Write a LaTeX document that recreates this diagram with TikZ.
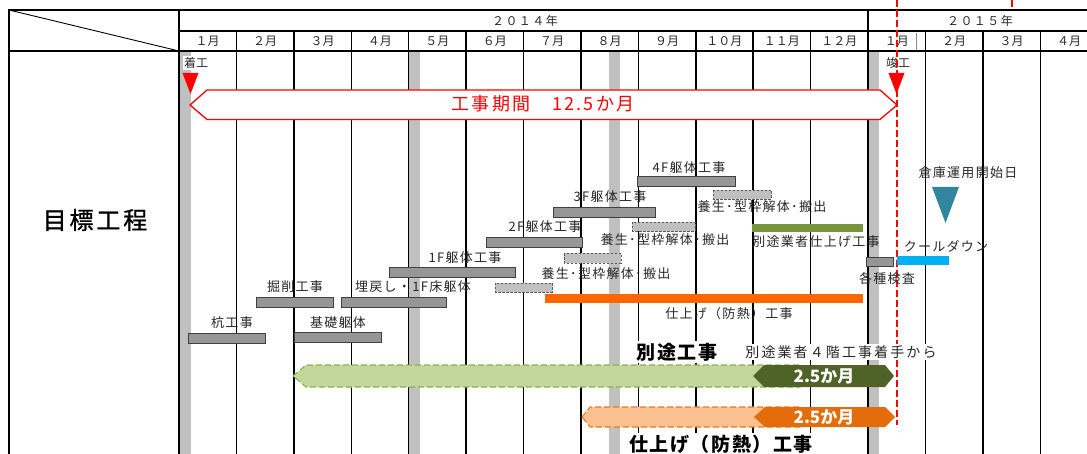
\documentclass[tikz,border=0pt]{standalone}
\usepackage{fontspec}
\setmainfont{Noto Sans CJK JP}
\definecolor{stripeg}{HTML}{C0C0C0}
\definecolor{barg}{HTML}{969696}
\definecolor{bard}{HTML}{404040}
\definecolor{dboxd}{HTML}{595959}
\definecolor{greenbar}{HTML}{77933C}
\definecolor{orangebar}{HTML}{FF6600}
\definecolor{cyanbar}{HTML}{00B0F0}
\definecolor{tealtri}{HTML}{31859C}
\definecolor{lgreen}{HTML}{C3D69B}
\definecolor{lgreend}{HTML}{8FAE55}
\definecolor{dgreen}{HTML}{4F6228}
\definecolor{lorange}{HTML}{FAC090}
\definecolor{lorangd}{HTML}{EC7A1C}
\definecolor{dorange}{HTML}{E46C0A}
\definecolor{txt}{HTML}{262626}
\newcommand\lblfont{\fontsize{13}{15}\selectfont\addfontfeature{LetterSpace=10}}
\newcommand\monfont{\fontsize{12}{14}\selectfont}
\newcommand\yrfont{\fontsize{12}{14}\selectfont\addfontfeature{LetterSpace=12}}
\newcommand\bigbold{\fontsize{19}{22}\selectfont\bfseries\addfontfeature{LetterSpace=8}}
\tikzset{
  gridline/.style={line width=1.5pt, black},
  border/.style={line width=1.8pt, black},
  gbar/.style={fill=barg, draw=bard, line width=0.8pt},
  dbox/.style={fill=stripeg, draw=dboxd, line width=0.8pt, dash pattern=on 2.5pt off 1.5pt},
  lbl/.style={font=\lblfont, inner sep=0pt, text=txt},
  mon/.style={font=\monfont, inner sep=0pt, text=txt},
  redv/.style={red, line width=2pt, dash pattern=on 7pt off 3pt},
}
\begin{document}
\begin{tikzpicture}[x=1pt,y=-1pt]
\useasboundingbox (0,0) rectangle (1087,454);
% stripes
\foreach \sx in {180,409,609,868} \fill[stripeg] (\sx,51) rectangle ++(10.5,403);
% grid lines
\foreach \i in {1,...,15} \draw[gridline] ({179+57.42*\i},31) -- ({179+57.42*\i},454);
\draw[gridline] (868,10) -- (868,31);
\draw[gridline] (179,10) -- (179,454);
\draw[border] (9,10) -- (1087,10);
\draw[border] (9,9.1) -- (9,454);
\draw[gridline] (9,51) -- (1087,51);
\draw[gridline] (179,31) -- (1087,31);
\draw[line width=0.9pt] (9,10) -- (179,51);
\draw[stripeg!70!black, line width=0.6pt] (916,33) -- (916,50);
% header text
\node[mon, font=\yrfont] (y2014) at (525,21) {２０１４年};
\node[mon, font=\yrfont] (y2015) at (980,21) {２０１５年};
\foreach \m [count=\k from 0] in {１月,２月,３月,４月,５月,６月,７月,８月,９月,１０月,１１月,１２月,１月,２月,３月,４月}
  \node[mon] (m\k) at ({179+57.42*(\k+0.5)},41.5) {\m};
% title
\node[inner sep=0pt, font=\fontsize{24}{28}\selectfont\addfontfeature{LetterSpace=12,FakeBold=1}] (title) at (95,220) {目標工程};
% start / finish
\node[lbl, fill=white, font=\fontsize{12}{14}\selectfont, inner sep=1pt] (chakko) at (196,63) {着工};
\node[lbl, fill=white, font=\fontsize{12}{14}\selectfont, inner sep=1pt] (shunko) at (898,63) {竣工};
\draw[redv] (896.5,0) -- (896.5,425);
\draw[redv] (1012,0) -- (1012,10);
\fill[red] (182.5,73) -- (198.5,73) -- (190.5,94) -- cycle;
\fill[red] (888.5,73) -- (904.5,73) -- (896.5,94) -- cycle;
% period arrow
\draw[red, line width=1.3pt, fill=white] (190,105) -- (207,90) -- (880,90) -- (897,105) -- (880,119.5) -- (207,119.5) -- cycle;
\node[inner sep=0pt, red, font=\fontsize{18}{20}\selectfont\addfontfeature{LetterSpace=12}] (period) at (543,104) {工事期間　12.5か月};
% bars
\draw[gbar] (188,333) rectangle (265,343);
\node[lbl] (kui) at (232,323) {杭工事};
\draw[gbar] (294,332) rectangle (381,342);
\node[lbl] (kiso) at (338,323) {基礎躯体};
\draw[gbar] (256,297) rectangle (333,307);
\node[lbl] (kussaku) at (295,287) {掘削工事};
\draw[gbar] (341,297) rectangle (446,307);
\node[lbl] (umemodoshi) at (413,287) {埋戻し・1F床躯体};
\draw[gbar] (389,267) rectangle (515,277);
\node[lbl] (f1) at (465,258) {1F躯体工事};
\draw[gbar] (486,237) rectangle (582,247);
\node[lbl] (f2) at (545,227) {2F躯体工事};
\draw[gbar] (553,207) rectangle (655,217);
\node[lbl] (f3) at (610,197) {3F躯体工事};
\draw[gbar] (637,176) rectangle (735,186);
\node[lbl] (f4) at (689,168) {4F躯体工事};
% dashed boxes
\draw[dbox] (495,283) rectangle (552,292);
\draw[dbox] (564,253.5) rectangle (621,263);
\draw[dbox] (632,222) rectangle (695,231);
\draw[dbox] (713,190) rectangle (771,199);
\node[lbl] (yojo1) at (606,274) {養生･型枠解体･搬出};
\node[lbl] (yojo2) at (665,240) {養生･型枠解体･搬出};
\node[lbl] (yojo3) at (762,207) {養生･型枠解体･搬出};
% colored bars
\fill[greenbar] (752,224) rectangle (863,232.5);
\node[lbl] (betto) at (816,242) {別途業者仕上げ工事};
\fill[orangebar] (545,294) rectangle (863,303);
\node[lbl] (shiage) at (729,314) {仕上げ（防熱）工事};
\draw[gbar] (866,257) rectangle (893,266);
\node[lbl] (kensa) at (887,279) {各種検査};
\fill[cyanbar] (897,256) rectangle (949,265);
\node[lbl] (cool) at (946,246) {クールダウン};
\node[lbl] (soko) at (968,173) {倉庫運用開始日};
\fill[tealtri] (932,187) -- (959,187) -- (945.5,223) -- cycle;
% bottom arrows
\draw[fill=lgreen, draw=lgreend, line width=1.1pt, dash pattern=on 6pt off 3pt] (293,376) -- (306,365) -- (800,365) -- (800,387) -- (306,387) -- cycle;
\fill[dgreen] (753,376) -- (764,365) -- (885,365) -- (894,376) -- (885,387) -- (764,387) -- cycle;
\node[inner sep=0pt, white, font=\fontsize{17}{20}\selectfont\bfseries] (g25) at (824,376) {2.5か月};
\draw[fill=lorange, draw=lorangd, line width=1.1pt, dash pattern=on 6pt off 3pt] (582,417) -- (590,407) -- (800,407) -- (800,427) -- (590,427) -- cycle;
\fill[dorange] (754,417) -- (765,407) -- (885,407) -- (895,417) -- (885,427) -- (765,427) -- cycle;
\node[inner sep=0pt, white, font=\fontsize{17}{20}\selectfont\bfseries] (o25) at (824,417) {2.5か月};
\node[fill=white, inner sep=1.5pt, font=\bigbold] (bettokoji) at (677,352) {別途工事};
\node[fill=white, inner sep=1.5pt, text=txt, font=\fontsize{14}{16}\selectfont\addfontfeature{LetterSpace=15}] (bettonote) at (841,352) {別途業者４階工事着手から};
\node[fill=white, inner sep=1.5pt, font=\bigbold] (shiagekoji) at (721,444) {仕上げ（防熱）工事};
\end{tikzpicture}
\end{document}
